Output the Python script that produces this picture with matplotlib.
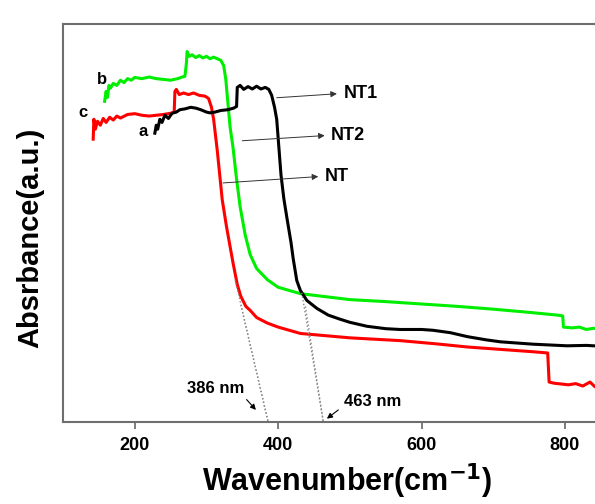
import numpy as np
import matplotlib
matplotlib.use('Agg')
import matplotlib.pyplot as plt

plt.rcParams['font.family'] = ['Liberation Sans', 'DejaVu Sans']

# curve b (green)
b_x = [158, 160, 162, 164, 166, 170, 175, 180, 185, 190, 195, 200, 210, 220, 230, 240, 250,
       260, 266, 270, 272, 273, 276, 280, 285, 290, 295, 300, 305, 310, 315, 320, 324, 327,
       330, 333, 337, 342, 347, 354, 361, 370, 385, 400, 431, 500, 550, 600, 650, 700, 750,
       790, 797, 798, 810, 820, 830, 840, 850]
b_y = [0.805, 0.830, 0.815, 0.845, 0.838, 0.850, 0.845, 0.858, 0.852, 0.862, 0.858, 0.865,
       0.862, 0.866, 0.862, 0.860, 0.858, 0.862, 0.866, 0.868, 0.900, 0.930, 0.918, 0.922,
       0.915, 0.920, 0.914, 0.918, 0.912, 0.916, 0.912, 0.908, 0.895, 0.860, 0.800, 0.740,
       0.690, 0.610, 0.540, 0.470, 0.420, 0.385, 0.357, 0.338, 0.322, 0.307, 0.302, 0.296,
       0.290, 0.283, 0.275, 0.268, 0.266, 0.238, 0.236, 0.238, 0.232, 0.235, 0.233]

# curve c (red)
c_x = [142, 143, 145, 148, 152, 156, 160, 165, 170, 175, 180, 190, 200, 210, 220, 230, 240,
       250, 255, 256, 258, 262, 268, 275, 282, 290, 298, 303, 307, 310, 315, 322, 328, 333,
       337, 343, 348, 355, 361, 370, 385, 400, 431, 500, 570, 620, 664, 710, 756, 776, 778,
       785, 795, 805, 815, 825, 835, 842, 850]
c_y = [0.710, 0.760, 0.735, 0.755, 0.745, 0.762, 0.752, 0.765, 0.758, 0.768, 0.763, 0.772,
       0.774, 0.770, 0.768, 0.770, 0.772, 0.775, 0.778, 0.830, 0.835, 0.822, 0.826, 0.822,
       0.826, 0.820, 0.818, 0.812, 0.790, 0.760, 0.683, 0.558, 0.490, 0.440, 0.400, 0.345,
       0.315, 0.290, 0.280, 0.262, 0.248, 0.238, 0.222, 0.211, 0.204, 0.196, 0.188, 0.182,
       0.176, 0.173, 0.100, 0.097, 0.095, 0.093, 0.096, 0.090, 0.100, 0.088, 0.092]

# curve a (black)
a_x = [228, 230, 232, 235, 238, 242, 247, 252, 258, 263, 270, 278, 285, 292, 300, 305, 312,
       320, 330, 338, 342, 343, 347, 352, 358, 364, 370, 376, 382, 387, 391, 395, 398, 401,
       404, 408, 412, 418, 421, 426, 431, 440, 454, 470, 486, 500, 524, 550, 570, 600, 616,
       640, 664, 690, 710, 756, 803, 830, 850]
a_y = [0.725, 0.745, 0.735, 0.760, 0.752, 0.770, 0.762, 0.775, 0.778, 0.784, 0.786, 0.790,
       0.788, 0.784, 0.778, 0.776, 0.778, 0.782, 0.784, 0.788, 0.792, 0.840, 0.845, 0.835,
       0.842, 0.836, 0.843, 0.836, 0.840, 0.835, 0.820, 0.790, 0.760, 0.690, 0.620, 0.560,
       0.515, 0.450, 0.410, 0.355, 0.330, 0.305, 0.285, 0.268, 0.258, 0.250, 0.240, 0.234,
       0.232, 0.232, 0.230, 0.224, 0.214, 0.206, 0.201, 0.195, 0.191, 0.192, 0.190]

# tangent (dotted) lines: (x0, y0, x1, y1)
tangents = [(340, 0.357, 386, 0.0), (348, 0.294, 386, 0.0),
            (433, 0.324, 463, 0.0), (438, 0.290, 463, 0.0)]

# sample arrows: label, start, end
sample_labels = ['NT1', 'NT2', 'NT']
arrow_start = [(398, 0.814), (350, 0.706), (323, 0.600)]
arrow_end = [(482, 0.824), (465, 0.719), (456, 0.616)]

xticks = [200, 400, 600, 800]

fig = plt.figure(figsize=(5.95, 5.04), dpi=100)
ax = fig.add_axes([0.106, 0.163, 0.894, 0.790])

ax.plot(b_x, b_y, color='#00ee00', lw=2.2)
ax.plot(c_x, c_y, color='#ff0000', lw=2.2)
ax.plot(a_x, a_y, color='black', lw=2.2)

for x0, y0, x1, y1 in tangents:
    ax.plot([x0, x1], [y0, y1], color='#888888', ls=':', lw=1.0)

for lab, s, e in zip(sample_labels, arrow_start, arrow_end):
    ax.annotate('', xy=e, xytext=s,
                arrowprops=dict(arrowstyle='-|>', color='#333333', lw=0.7,
                                mutation_scale=9, shrinkA=0, shrinkB=0))
    ax.text(e[0] + 9, e[1], lab, fontsize=13, fontweight='bold', va='center', ha='left')

ax.text(154, 0.859, 'b', fontsize=12, fontweight='bold', ha='center', va='center')
ax.text(128, 0.776, 'c', fontsize=12, fontweight='bold', ha='center', va='center')
ax.text(211, 0.729, 'a', fontsize=12, fontweight='bold', ha='center', va='center')

ax.text(313, 0.083, '386 nm', fontsize=12, fontweight='bold', ha='center', va='center')
ax.annotate('', xy=(369, 0.030), xytext=(356, 0.056),
            arrowprops=dict(arrowstyle='-|>', color='black', lw=0.8,
                            mutation_scale=8, shrinkA=0, shrinkB=0))
ax.text(532, 0.05, '463 nm', fontsize=12, fontweight='bold', ha='center', va='center')
ax.annotate('', xy=(468, 0.008), xytext=(484, 0.030),
            arrowprops=dict(arrowstyle='-|>', color='black', lw=0.8,
                            mutation_scale=8, shrinkA=0, shrinkB=0))

ax.set_xlim(100, 842)
ax.set_ylim(0, 1)
ax.set_xticks(xticks)
ax.set_xticklabels([str(t) for t in xticks], fontsize=13, fontweight='bold')
ax.set_yticks([])
ax.tick_params(axis='x', direction='out', length=5, width=1.2, color='#666666', pad=6)

for side in ['left', 'bottom', 'top']:
    ax.spines[side].set_color('#6e6e6e')
    ax.spines[side].set_linewidth(1.5)
ax.spines['right'].set_visible(False)

ax.set_xlabel('Wavenumber(cm$^{\\mathbf{-1}}$)', fontsize=22, fontweight='bold')
ax.xaxis.set_label_coords(0.534, -0.1)
ax.set_ylabel('Absrbance(a.u.)', fontsize=21, fontweight='bold')
ax.yaxis.set_label_coords(-0.036, 0.462)

fig.savefig('out.png', dpi=100)
